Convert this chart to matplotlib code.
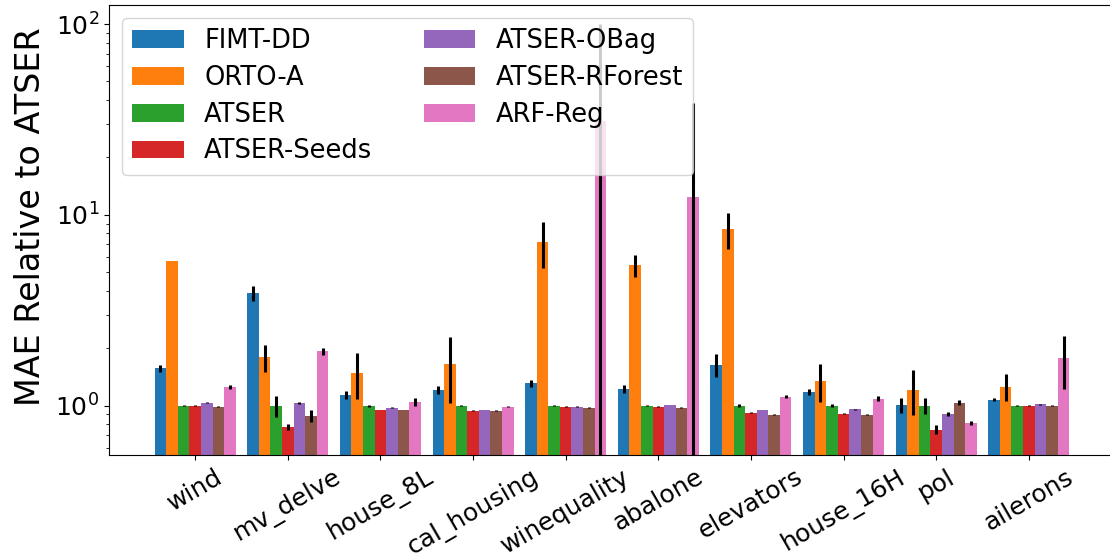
import numpy as np
import matplotlib
matplotlib.use("Agg")
import matplotlib.pyplot as plt

datasets = ["wind", "mv_delve", "house_8L", "cal_housing", "winequality",
            "abalone", "elevators", "house_16H", "pol", "ailerons"]
methods = ["FIMT-DD", "ORTO-A", "ATSER", "ATSER-Seeds",
           "ATSER-OBag", "ATSER-RForest", "ARF-Reg"]

# mean MAE relative to ATSER, and the spread across runs
fimt = [1.57, 3.88, 1.14, 1.21, 1.31, 1.23, 1.64, 1.185, 1.01, 1.075]
fimt_err = [0.07, 0.35, 0.05, 0.06, 0.05, 0.06, 0.23, 0.04, 0.09, 0.02]
orto = [5.73, 1.79, 1.49, 1.66, 7.2, 5.45, 8.4, 1.35, 1.21, 1.26]
orto_err = [0.0, 0.29, 0.4, 0.63, 1.95, 0.7, 1.8, 0.3, 0.32, 0.2]
atser = [1.0, 1.0, 1.0, 1.0, 1.0, 1.0, 1.0, 1.0, 1.0, 1.0]
atser_err = [0.005, 0.13, 0.01, 0.005, 0.005, 0.005, 0.02, 0.02, 0.1, 0.005]
seeds = [1.0, 0.775, 0.95, 0.94, 0.99, 0.99, 0.92, 0.908, 0.748, 1.0]
seeds_err = [0.005, 0.03, 0.005, 0.005, 0.005, 0.005, 0.005, 0.005, 0.04, 0.005]
obag = [1.036, 1.036, 0.976, 0.95, 0.99, 1.01, 0.95, 0.96, 0.908, 1.02]
obag_err = [0.005, 0.01, 0.005, 0.005, 0.005, 0.005, 0.005, 0.005, 0.02, 0.005]
rforest = [0.99, 0.886, 0.95, 0.94, 0.976, 0.976, 0.897, 0.897, 1.036, 1.0]
rforest_err = [0.005, 0.06, 0.005, 0.005, 0.005, 0.005, 0.005, 0.005, 0.03, 0.005]
arf = [1.26, 1.925, 1.05, 0.99, 31.2, 12.4, 1.115, 1.09, 0.814, 1.77]
arf_err = [0.03, 0.08, 0.05, 0.005, 69.0, 26.0, 0.02, 0.03, 0.02, 0.55]

means = [fimt, orto, atser, seeds, obag, rforest, arf]
errors = [fimt_err, orto_err, atser_err, seeds_err, obag_err, rforest_err, arf_err]

W, H = 1110, 560
fig = plt.figure(figsize=(W / 100, H / 100), dpi=100)
ax = fig.add_axes([109 / W, (H - 455) / H, (1115 - 109) / W, (455 - 5) / H])

x = np.arange(len(datasets))
width = 0.125
for j, (name, m, e) in enumerate(zip(methods, means, errors)):
    ax.bar(x + (j - 3) * width, m, width, yerr=e, label=name,
           color=f"C{j}", error_kw=dict(ecolor="black", elinewidth=2.2, capsize=0))

ax.set_yscale("log")
ax.set_ylim(0.552, 125.8)
ax.set_xlim(-0.93, 9.93)
ax.set_xticks(x)
ax.set_xticklabels(datasets, rotation=30, fontsize=18)
ax.tick_params(axis="y", labelsize=18)
ax.set_ylabel("MAE Relative to ATSER", fontsize=24, labelpad=6)
ax.yaxis.label.set_y(0.53)
ax.legend(ncol=2, loc="upper left", fontsize=18.5, labelspacing=0.42)

fig.savefig("out.png", dpi=100)
